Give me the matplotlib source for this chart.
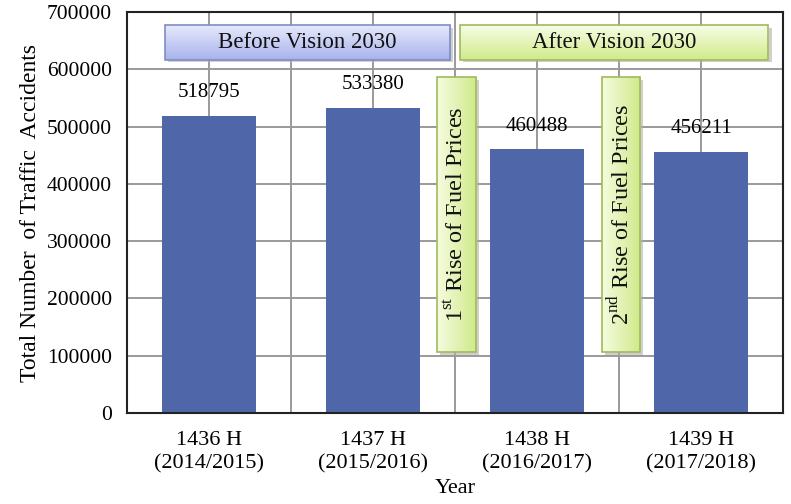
import numpy as np
import matplotlib
matplotlib.use('Agg')
import matplotlib.pyplot as plt
from matplotlib.patches import Rectangle

plt.rcParams['font.family'] = ['Liberation Serif', 'DejaVu Serif']
plt.rcParams['mathtext.fontset'] = 'custom'
plt.rcParams['mathtext.rm'] = 'Liberation Serif'

# data
years = ['1436 H\n(2014/2015)', '1437 H\n(2015/2016)', '1438 H\n(2016/2017)', '1439 H\n(2017/2018)']
accidents = [518795, 533380, 460488, 456211]
y_ticks = [0, 100000, 200000, 300000, 400000, 500000, 600000, 700000]


def draw_box(ax, x0, x1, y0, y1, light, dark, edge, text, rotation=0, fs=15):
    """gradient box with a soft shadow, in data coordinates"""
    dx = 0.02
    dy = 5000
    ax.add_patch(Rectangle((x0 + dx, y0 - dy), x1 - x0, y1 - y0, facecolor='#b0b0b0',
                           edgecolor='none', alpha=0.6, zorder=4))
    c0 = np.array(matplotlib.colors.to_rgb(light))
    c1 = np.array(matplotlib.colors.to_rgb(dark))
    t = np.linspace(0, 1, 64)
    if rotation == 0:
        grad = (c0[None, :] * (1 - t[:, None]) + c1[None, :] * t[:, None])[:, None, :]
        grad = np.repeat(grad, 2, axis=1)
    else:
        grad = (c0[None, :] * (1 - t[:, None]) + c1[None, :] * t[:, None])[None, :, :]
        grad = np.repeat(grad, 2, axis=0)
    ax.imshow(grad, extent=(x0, x1, y0, y1), origin='upper', aspect='auto',
              zorder=5, interpolation='bilinear')
    ax.add_patch(Rectangle((x0, y0), x1 - x0, y1 - y0, facecolor='none',
                           edgecolor=edge, linewidth=1.2, zorder=6))
    ax.text((x0 + x1) / 2, (y0 + y1) / 2, text, ha='center', va='center',
            rotation=rotation, fontsize=fs, zorder=7, color='#111111')


fig = plt.figure(figsize=(7.91, 5.04), dpi=100)
ax = fig.add_axes([0.1606, 0.1806, 0.8293, 0.7954])

x = np.arange(len(years))
ax.bar(x, accidents, width=0.57, color='#4f67a8', zorder=3)

for xi, v in zip(x, accidents):
    ax.text(xi, v + 24000, str(v), ha='center', va='bottom', fontsize=15, zorder=3)

# annotation boxes
draw_box(ax, -0.27, 1.47, 617000, 677000, '#e6e9fb', '#a8b3ec', '#7f8cc4',
         'Before Vision 2030', fs=16.5)
draw_box(ax, 1.53, 3.41, 617000, 677000, '#f8fde6', '#d0ea8a', '#9fbb5c',
         'After Vision 2030', fs=16.5)
draw_box(ax, 1.39, 1.628, 107000, 586000, '#f6fcdf', '#cfe98a', '#9fbb5c',
         '1$^{\\mathrm{st}}$ Rise of Fuel Prices', rotation=90, fs=17.5)
draw_box(ax, 2.396, 2.628, 107000, 586000, '#f6fcdf', '#cfe98a', '#9fbb5c',
         '2$^{\\mathrm{nd}}$ Rise of Fuel Prices', rotation=90, fs=17.5)

ax.set_xlim(-0.5, 3.5)
ax.set_ylim(0, 700000)
ax.set_yticks(y_ticks)
ax.set_yticklabels([str(v) for v in y_ticks], fontsize=15.5)
ax.set_xticks(x)
ax.set_xticklabels(years, fontsize=16, linespacing=1.3)
ax.set_xticks(x[:-1] + 0.5, minor=True)
ax.tick_params(axis='both', which='both', length=0)
ax.tick_params(axis='x', pad=13)
ax.tick_params(axis='y', pad=11)

ax.grid(True, which='both', color='#9a9a9a', linewidth=1.4, zorder=0)
ax.set_axisbelow(True)
for s in ax.spines.values():
    s.set_color('#222222')
    s.set_linewidth(1.5)
    s.set_zorder(8)

ax.set_ylabel('Total Number  of Traffic  Accidents', fontsize=17, labelpad=4)
ax.set_xlabel('Year', fontsize=16, labelpad=4)

fig.savefig('out.png', dpi=100)
